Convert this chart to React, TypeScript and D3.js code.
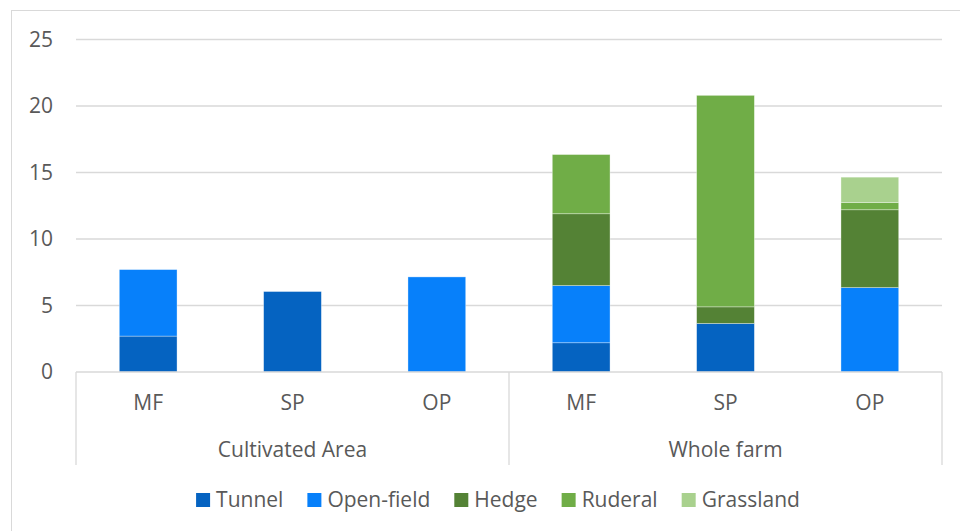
import React, { useEffect, useRef } from 'react';
import * as d3 from 'd3';

// categories
const groups = ['Cultivated Area', 'Whole farm'];
const systems = ['MF', 'SP', 'OP', 'MF', 'SP', 'OP'];
const seriesNames = ['Tunnel', 'Open-field', 'Hedge', 'Ruderal', 'Grassland'];
const seriesColors = ['#0563C1', '#0780FA', '#548235', '#70AD47', '#A9D18E'];
const yTicks = [0, 5, 10, 15, 20, 25];

// series values (one per bar)
const tunnel = [2.7, 6.05, 0, 2.2, 3.65, 0];
const openField = [5.0, 0, 7.15, 4.3, 0, 6.35];
const hedge = [0, 0, 0, 5.4, 1.25, 5.85];
const ruderal = [0, 0, 0, 4.45, 15.9, 0.55];
const grassland = [0, 0, 0, 0, 0, 1.9];

const W = 960;
const H = 531;
const FONT = '"Open Sans", "Liberation Sans", sans-serif';
const FS = '21px';
const TXT = '#595959';

export default function App() {
  const ref = useRef<SVGSVGElement>(null);

  useEffect(() => {
    const svg = d3.select(ref.current);
    svg.selectAll('*').remove();

    const rows = systems.map((s, i) => ({
      i,
      Tunnel: tunnel[i],
      'Open-field': openField[i],
      Hedge: hedge[i],
      Ruderal: ruderal[i],
      Grassland: grassland[i],
    }));

    const x = d3.scaleBand<number>()
      .domain(d3.range(systems.length))
      .range([76, 942])
      .paddingInner(0.6)
      .paddingOuter(0.3);
    const y = d3.scaleLinear().domain([0, 25]).range([372, 39.5]);

    // chart frame
    svg.append('rect')
      .attr('x', 11.5).attr('y', 10.5)
      .attr('width', W + 20).attr('height', H + 20)
      .attr('fill', '#fff')
      .attr('stroke', '#d9d9d9');

    // grid
    svg.append('g')
      .selectAll('line')
      .data(yTicks.slice(1))
      .enter().append('line')
      .attr('x1', 76).attr('x2', 942)
      .attr('y1', d => y(d)).attr('y2', d => y(d))
      .attr('stroke', '#d9d9d9').attr('stroke-width', 1.3);

    svg.append('g')
      .selectAll('text')
      .data(yTicks)
      .enter().append('text')
      .attr('x', 53).attr('y', d => y(d))
      .attr('dy', '0.35em')
      .attr('text-anchor', 'end')
      .style('font-family', FONT).style('font-size', FS)
      .attr('fill', TXT)
      .text(d => d);

    // stacked bars
    const stack = d3.stack<any>().keys(seriesNames);
    const layers = stack(rows);
    svg.append('g')
      .selectAll('g')
      .data(layers)
      .enter().append('g')
      .attr('fill', (d, k) => seriesColors[k])
      .selectAll('rect')
      .data(d => d.filter(p => p[1] - p[0] > 0))
      .enter().append('rect')
      .attr('x', d => x(d.data.i)!)
      .attr('width', x.bandwidth())
      .attr('y', d => y(d[1]))
      .attr('height', d => y(d[0]) - y(d[1]))
      .attr('stroke', '#fff').attr('stroke-opacity', 0.45).attr('stroke-width', 0.75);

    // category axis
    const ax = svg.append('g');
    ax.append('line')
      .attr('x1', 76).attr('x2', 942)
      .attr('y1', y(0)).attr('y2', y(0))
      .attr('stroke', '#d9d9d9').attr('stroke-width', 1.3);
    const step = x.step();
    const dividers = [0, 3, 6].map(k => 76 + k * step);
    ax.selectAll('line.div')
      .data(dividers)
      .enter().append('line')
      .attr('class', 'div')
      .attr('x1', d => d).attr('x2', d => d)
      .attr('y1', y(0)).attr('y2', 465)
      .attr('stroke', '#d9d9d9').attr('stroke-width', 1.3);

    ax.selectAll('text.cat')
      .data(systems)
      .enter().append('text')
      .attr('class', 'cat')
      .attr('x', (d, i) => x(i)! + x.bandwidth() / 2)
      .attr('y', 403)
      .attr('dy', '0.35em')
      .attr('text-anchor', 'middle')
      .style('font-family', FONT).style('font-size', FS)
      .attr('fill', TXT)
      .text(d => d);

    ax.selectAll('text.grp')
      .data(groups)
      .enter().append('text')
      .attr('class', 'grp')
      .attr('x', (d, g) => (dividers[g] + dividers[g + 1]) / 2)
      .attr('y', 450)
      .attr('dy', '0.35em')
      .attr('text-anchor', 'middle')
      .style('font-family', FONT).style('font-size', FS)
      .attr('fill', TXT)
      .text(d => d);

    // legend
    const leg = svg.append('g');
    const items = leg.selectAll('g')
      .data(seriesNames)
      .enter().append('g');
    items.append('rect')
      .attr('width', 14).attr('height', 14)
      .attr('y', -7)
      .attr('fill', (d, k) => seriesColors[k]);
    items.append('text')
      .attr('x', 20)
      .attr('dy', '0.35em')
      .style('font-family', FONT).style('font-size', FS)
      .attr('fill', TXT)
      .text(d => d);
    const gap = 24;
    let cx = 0;
    const offs: number[] = [];
    items.each(function () {
      const t = d3.select(this).select('text').node() as SVGTextElement;
      offs.push(cx);
      cx += 20 + t.getComputedTextLength() + gap;
    });
    const total = cx - gap;
    const start = 498 - total / 2;
    items.attr('transform', (d, k) => `translate(${start + offs[k]},500)`);
  }, []);

  return (
    <div style={{ position: 'absolute', left: 0, top: 0 }}>
      <svg ref={ref} width={W} height={H} style={{ display: 'block', background: '#fff' }} />
    </div>
  );
}
